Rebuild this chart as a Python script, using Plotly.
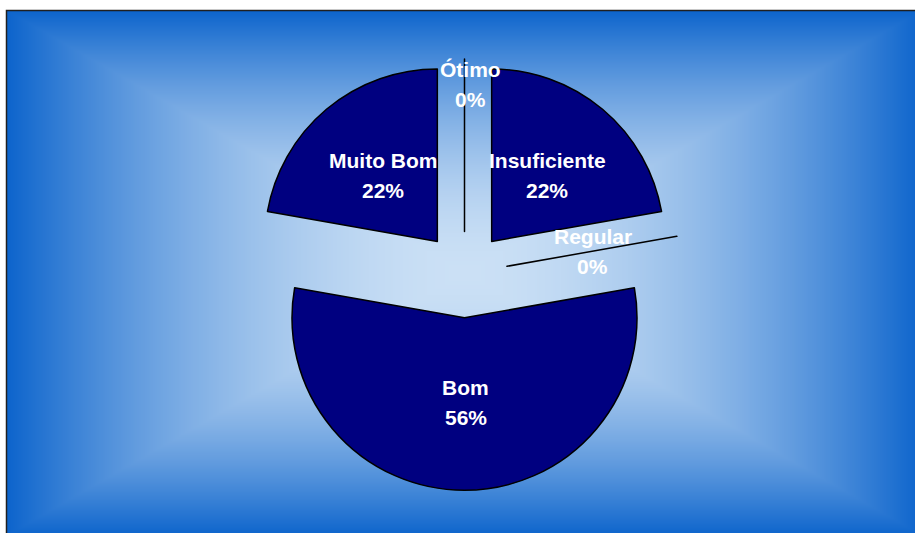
import math, zlib, struct, base64
import numpy as np
import plotly.graph_objects as go

# ---- data ----
labels = ["Ótimo", "Insuficiente", "Regular", "Bom", "Muito Bom"]
values = [0, 2, 0, 5, 2]
pulls = [0.245, 0.245, 0.25, 0.255, 0.245]
label_r = [0.85, 0.5, 0.5, 0.49, 0.5]   # label distance (fraction of radius)
label_dx = [6, 0, 1, 1, 1]               # small horizontal nudge (px)

W, H = 915, 533

# ---- background gradient (rectangular "from center") ----
bx0, by0, bw, bh = 6, 10, 917, 528
gw, gh = 459, 264
ys, xs = np.mgrid[0:gh, 0:gw]
px = (xs + 0.5) / gw * bw
py = (ys + 0.5) / gh * bh
ccx, ccy = 464.5 - bx0, 273 - by0
t = np.maximum(np.abs(px - ccx) / ccx, np.abs(py - ccy) / ccy)
t = np.clip(t, 0, 1)
f = t ** 1.8
light = np.array([203, 224, 245], float)
dark = np.array([12, 100, 204], float)
img = (light[None, None, :] + (dark - light)[None, None, :] * f[..., None]).round().astype(np.uint8)


def to_png(arr):
    h, w, _ = arr.shape
    raw = b"".join(b"\x00" + arr[y].tobytes() for y in range(h))

    def chunk(tag, d):
        return struct.pack(">I", len(d)) + tag + d + struct.pack(">I", zlib.crc32(tag + d) & 0xffffffff)

    return (b"\x89PNG\r\n\x1a\n" + chunk(b"IHDR", struct.pack(">IIBBBBB", w, h, 8, 2, 0, 0, 0))
            + chunk(b"IDAT", zlib.compress(raw, 9)) + chunk(b"IEND", b""))


src = "data:image/png;base64," + base64.b64encode(to_png(img)).decode()

# ---- pie geometry ----
cx_px, cy_px, r_px = 464.5, 273.8, 172.5
half = r_px * (1 + max(pulls))
dom_x = [(cx_px - half) / W, (cx_px + half) / W]
dom_y = [1 - (cy_px + half) / H, 1 - (cy_px - half) / H]

fig = go.Figure(go.Pie(
    labels=labels, values=values, pull=pulls, sort=False, direction="clockwise",
    rotation=0, textinfo="none", hoverinfo="label+percent",
    marker=dict(colors=["#000080"] * len(values), line=dict(color="#000000", width=1.5)),
    domain=dict(x=dom_x, y=dom_y), showlegend=False,
))

# ---- labels ----
total = sum(values)
cum = 0
annots = []
font = dict(family="Liberation Sans, Arial, sans-serif", size=21, color="white")
for lab, v, p, k, ddx in zip(labels, values, pulls, label_r, label_dx):
    th = 2 * math.pi * (cum + v / 2) / total
    cum += v
    sx, sy = math.sin(th), -math.cos(th)
    x = cx_px + (p + k) * r_px * sx
    y = cy_px + (p + k) * r_px * sy
    pct = f"{round(100 * v / total)}%"
    for txt, dy in ((lab, 15), (pct, -15)):
        annots.append(dict(x=x / W, y=1 - y / H, xref="paper", yref="paper", text=f"<b>{txt}</b>",
                           showarrow=False, font=font, xanchor="center", yanchor="middle",
                           yshift=dy, xshift=ddx))

fig.update_layout(
    width=W, height=H, margin=dict(l=0, r=0, t=0, b=0),
    paper_bgcolor="white", plot_bgcolor="rgba(0,0,0,0)",
    images=[dict(source=src, xref="paper", yref="paper", x=bx0 / W, y=1 - by0 / H,
                 sizex=bw / W, sizey=bh / H, sizing="stretch", xanchor="left", yanchor="top",
                 layer="below")],
    shapes=[dict(type="rect", xref="paper", yref="paper", x0=6.5 / W, y0=-0.05, x1=1.05, y1=1 - 10.5 / H,
                 line=dict(color="#202020", width=1.5), layer="above")],
    annotations=annots,
)
fig.write_html("out.html", config={"displayModeBar": False},
               post_script="document.body.style.margin='0px';")
